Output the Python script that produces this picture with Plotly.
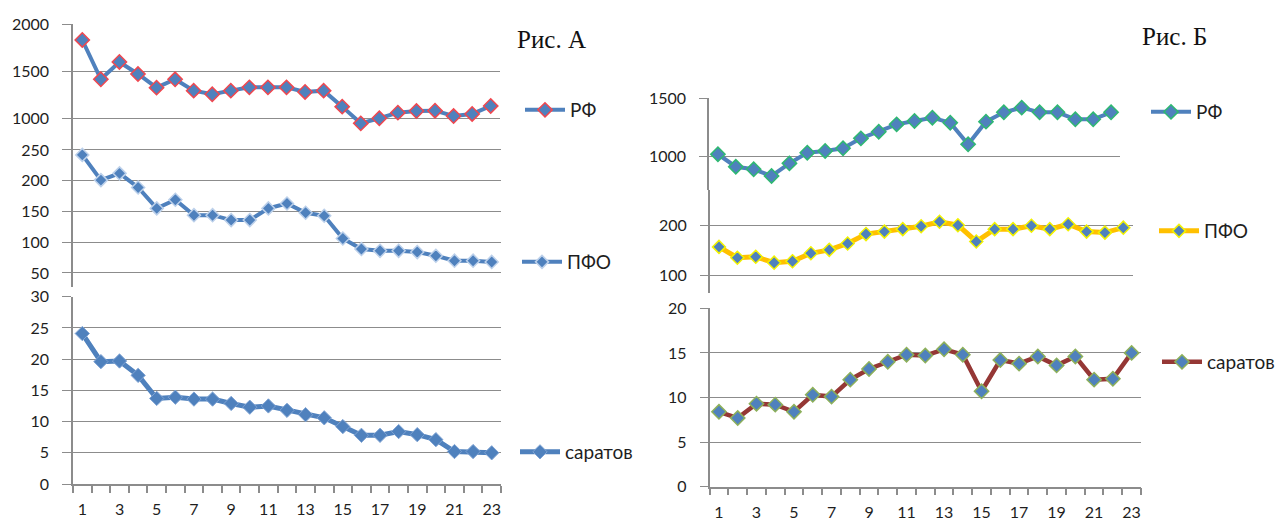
import plotly.graph_objects as go

# ---------------- data ----------------
periods = list(range(1, 24))
categories = [str(p) for p in periods]
tick_labels = [str(p) if p % 2 == 1 else "" for p in periods]

# Рис. А
rf_a = [1830, 1412, 1596, 1468, 1323, 1412, 1291, 1252, 1291, 1326, 1326, 1326,
        1277, 1291, 1121, 943, 997, 1057, 1074, 1078, 1021, 1043, 1128]
pfo_a = [242, 201, 212, 189, 155, 169, 144, 144, 136, 136, 155, 163,
         148, 143, 106, 89, 86, 86, 84, 78, 70, 70, 68]
sar_a = [24.1, 19.6, 19.7, 17.4, 13.7, 13.9, 13.6, 13.6, 12.9, 12.3, 12.5, 11.8,
         11.1, 10.6, 9.2, 7.8, 7.8, 8.4, 7.9, 7.1, 5.2, 5.2, 5.0]

# Рис. Б
rf_b = [1021, 914, 892, 835, 943, 1034, 1049, 1072, 1157, 1214, 1277, 1306,
        1334, 1291, 1106, 1300, 1380, 1420, 1380, 1380, 1320, 1320, 1380]
pfo_b = [157, 135, 137, 125, 128, 144, 151, 164, 183, 188, 193, 199,
         208, 201, 168, 193, 193, 200, 193, 203, 188, 186, 196]
sar_b = [8.4, 7.7, 9.3, 9.2, 8.4, 10.3, 10.1, 12.0, 13.2, 14.0, 14.8, 14.7,
         15.4, 14.8, 10.7, 14.2, 13.8, 14.6, 13.6, 14.6, 12.0, 12.1, 15.0]

series_names = ["РФ", "ПФО", "саратов"]
yticks_rf_a = [1000, 1500, 2000]
yticks_pfo_a = [50, 100, 150, 200, 250]
yticks_sar_a = [0, 5, 10, 15, 20, 25, 30]
yticks_rf_b = [1000, 1500]
yticks_pfo_b = [100, 200]
yticks_sar_b = [0, 5, 10, 15, 20]

# ---------------- helpers ----------------
W, H = 1279, 520
BLUE = "#4F81BD"
GRID = "#8C8C8C"
TICKFONT = dict(family="Lato, 'Open Sans', sans-serif", size=16, color="#1e1e1e")


def fx(px):
    return px / W


def fy(py):
    return 1 - py / H


def xaxis(x0, x1, anchor, show):
    d = dict(domain=[fx(x0), fx(x1)], anchor=anchor, type="category",
             range=[-0.5, 22.5], showgrid=False, zeroline=False, fixedrange=True)
    if show:
        d.update(showline=True, linecolor=GRID, linewidth=1.5, ticks="outside",
                 tickson="boundaries", ticklen=7, tickcolor=GRID, tickwidth=1.5,
                 tickmode="array", tickvals=categories, ticktext=tick_labels,
                 tickfont=TICKFONT, ticklabelstandoff=10, tickangle=0)
    else:
        d.update(visible=False)
    return d


def yaxis(py_bottom, py_top, rng, tickvals, anchor, ticklen, line=True):
    return dict(domain=[fy(py_bottom), fy(py_top)], anchor=anchor, range=rng,
                tickmode="array", tickvals=tickvals, showgrid=True,
                gridcolor=GRID, gridwidth=1.3, zeroline=False, showline=line,
                linecolor=GRID, linewidth=1.5, ticks="outside", ticklen=ticklen,
                tickcolor=GRID, tickwidth=1.3, tickfont=TICKFONT,
                ticklabelstandoff=10, fixedrange=True)


fig = go.Figure()

# ---- Рис. А ----
fig.add_trace(go.Scatter(x=categories, y=rf_a, name=series_names[0], mode="lines+markers",
                         xaxis="x", yaxis="y", legend="legend",
                         line=dict(color=BLUE, width=4),
                         marker=dict(symbol="diamond", size=11, color=BLUE,
                                     line=dict(color="#F0474F", width=1.5))))
fig.add_trace(go.Scatter(x=categories, y=pfo_a, name=series_names[1], mode="lines+markers",
                         xaxis="x2", yaxis="y2", legend="legend2",
                         line=dict(color=BLUE, width=4),
                         marker=dict(symbol="diamond", size=10, color=BLUE,
                                     line=dict(color="#BCD0EA", width=1.5))))
fig.add_trace(go.Scatter(x=categories, y=sar_a, name=series_names[2], mode="lines+markers",
                         xaxis="x3", yaxis="y3", legend="legend3",
                         line=dict(color=BLUE, width=5),
                         marker=dict(symbol="diamond", size=11, color=BLUE,
                                     line=dict(color="#7FA3D3", width=1))))

# ---- Рис. Б ----
fig.add_trace(go.Scatter(x=categories, y=rf_b, name=series_names[0], mode="lines+markers",
                         xaxis="x4", yaxis="y4", legend="legend4",
                         line=dict(color=BLUE, width=4),
                         marker=dict(symbol="diamond", size=11, color=BLUE,
                                     line=dict(color="#2FB872", width=1.5))))
fig.add_trace(go.Scatter(x=categories, y=pfo_b, name=series_names[1], mode="lines+markers",
                         xaxis="x5", yaxis="y5", legend="legend5",
                         line=dict(color="#FFC000", width=5),
                         marker=dict(symbol="diamond", size=10, color=BLUE,
                                     line=dict(color="#F2F200", width=1.5))))
fig.add_trace(go.Scatter(x=categories, y=sar_b, name=series_names[2], mode="lines+markers",
                         xaxis="x6", yaxis="y6", legend="legend6",
                         line=dict(color="#953735", width=4.5),
                         marker=dict(symbol="diamond", size=11, color=BLUE,
                                     line=dict(color="#8DB05A", width=1.5))))


def legend_at(px, py):
    return dict(x=fx(px), y=fy(py), xanchor="left", yanchor="middle",
                bgcolor="rgba(0,0,0,0)", borderwidth=0, itemwidth=40,
                font=dict(family="Lato, 'Open Sans', sans-serif", size=19, color="#1e1e1e"),
                itemclick=False, itemdoubleclick=False)


# РФ (Рис. А): plot area extends below the 1000 line so the dip is not clipped
rfa_px_per_unit = (118 - 24) / 1000.0
rfa_bottom = 1000 - (145 - 118) / rfa_px_per_unit

fig.update_layout(
    width=W, height=H,
    margin=dict(l=0, r=0, t=0, b=0, pad=0, autoexpand=False),
    paper_bgcolor="white", plot_bgcolor="rgba(0,0,0,0)",
    showlegend=True,
    # left
    xaxis=xaxis(73, 500, "y", False),
    yaxis=yaxis(145, 24, [rfa_bottom, 2000], yticks_rf_a, "x", 9),
    xaxis2=xaxis(73, 501, "y2", False),
    yaxis2=yaxis(287, 118, [27.2, 302.0], yticks_pfo_a, "x2", 9),
    xaxis3=xaxis(73, 501, "y3", True),
    yaxis3=yaxis(484, 296.7, [0, 30], yticks_sar_a, "x3", 9),
    # right
    xaxis4=xaxis(709, 1120, "y4", False),
    yaxis4=yaxis(190, 98.3, [715, 1500], yticks_rf_b, "x4", 8),
    xaxis5=xaxis(709.8, 1132.5, "y5", False),
    yaxis5=yaxis(293, 190, [63.5, 272.4], yticks_pfo_b, "x5", 8),
    xaxis6=xaxis(709.6, 1141, "y6", True),
    yaxis6=yaxis(486.7, 308.3, [0, 20], yticks_sar_b, "x6", 8),
    legend=legend_at(520, 110),
    legend2=legend_at(517, 262),
    legend3=legend_at(515, 452),
    legend4=legend_at(1146, 112),
    legend5=legend_at(1154, 231),
    legend6=legend_at(1157, 362),
    annotations=[
        dict(text="Рис. А", x=fx(515), y=fy(40), xref="paper", yref="paper",
             xanchor="left", yanchor="middle", showarrow=False,
             font=dict(family="Liberation Serif, 'Times New Roman', serif", size=25, color="#111")),
        dict(text="Рис. Б", x=fx(1140), y=fy(37), xref="paper", yref="paper",
             xanchor="left", yanchor="middle", showarrow=False,
             font=dict(family="Liberation Serif, 'Times New Roman', serif", size=25, color="#111")),
    ],
)

fig.write_html("out.html", config={"displayModeBar": False},
               post_script="document.body.style.margin='0';document.body.style.overflow='hidden';")
